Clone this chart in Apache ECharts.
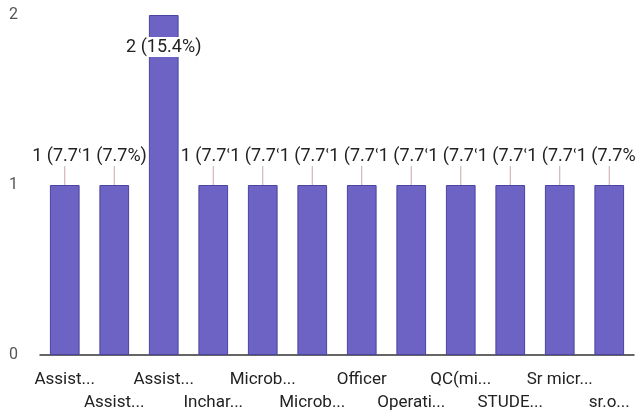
<!DOCTYPE html>
<html>
<head>
<meta charset="utf-8">
<script src="https://cdn.jsdelivr.net/npm/echarts@6/dist/echarts.min.js"></script>
<style>
  html, body { margin: 0; padding: 0; background: #fff; }
  #chart { width: 635px; height: 416px; }
</style>
</head>
<body>
<div id="chart"></div>
<script>
// Categories as shown (already truncated in the source chart)
var categories = ["Assist...", "Assist...", "Assist...", "Inchar...", "Microb...", "Microb...",
  "Officer", "Operati...", "QC(mi...", "STUDE...", "Sr micr...", "sr.o..."];
var counts = [1, 1, 2, 1, 1, 1, 1, 1, 1, 1, 1, 1];
var yTicks = [0, 1, 2];

var total = counts.reduce(function (a, b) { return a + b; }, 0);

var chart = echarts.init(document.getElementById("chart"));

var seriesData = counts.map(function (v, i) {
  var item = { value: v };
  // the tallest bar has its label pulled inside the bar top
  if (v === Math.max.apply(null, counts)) {
    item.label = { position: "insideTop", distance: 22 };
  }
  return item;
});

var option = {
  animation: false,
  grid: { left: 40, right: 1, top: 15, bottom: 61 },
  xAxis: {
    type: "category",
    data: categories,
    axisLine: { lineStyle: { color: "#333", width: 1.5 } },
    axisTick: { show: false },
    axisLabel: {
      interval: 0,
      margin: 13,
      fontFamily: "Roboto",
      fontSize: 17,
      lineHeight: 23,
      color: "#222",
      formatter: function (val, idx) {
        return idx % 2 === 1 ? "\n" + val : val;
      }
    }
  },
  yAxis: {
    type: "value",
    min: yTicks[0],
    max: yTicks[yTicks.length - 1],
    interval: 1,
    splitLine: { show: false },
    axisLine: { show: false },
    axisTick: { show: false },
    axisLabel: {
      margin: 22,
      fontFamily: "Roboto",
      fontSize: 16,
      color: "#555"
    }
  },
  series: [{
    type: "bar",
    data: seriesData,
    barWidth: "60%",
    itemStyle: { color: "#6c63c4", borderColor: "#4b44a0", borderWidth: 1 },
    label: {
      show: true,
      position: "top",
      distance: 5,
      fontFamily: "Roboto",
      fontSize: 18,
      color: "#222",
      backgroundColor: "#fff",
      padding: [1, 1],
      formatter: function (p) {
        return p.value + " (" + (p.value / total * 100).toFixed(1) + "%)";
      }
    },
    labelLine: { show: true, lineStyle: { color: "#c9a9a9", width: 1 } },
    labelLayout: function (p) {
      return p.dataIndex === 2 ? {} : { dy: -14 };
    }
  }]
};

chart.setOption(option);
</script>
</body>
</html>
